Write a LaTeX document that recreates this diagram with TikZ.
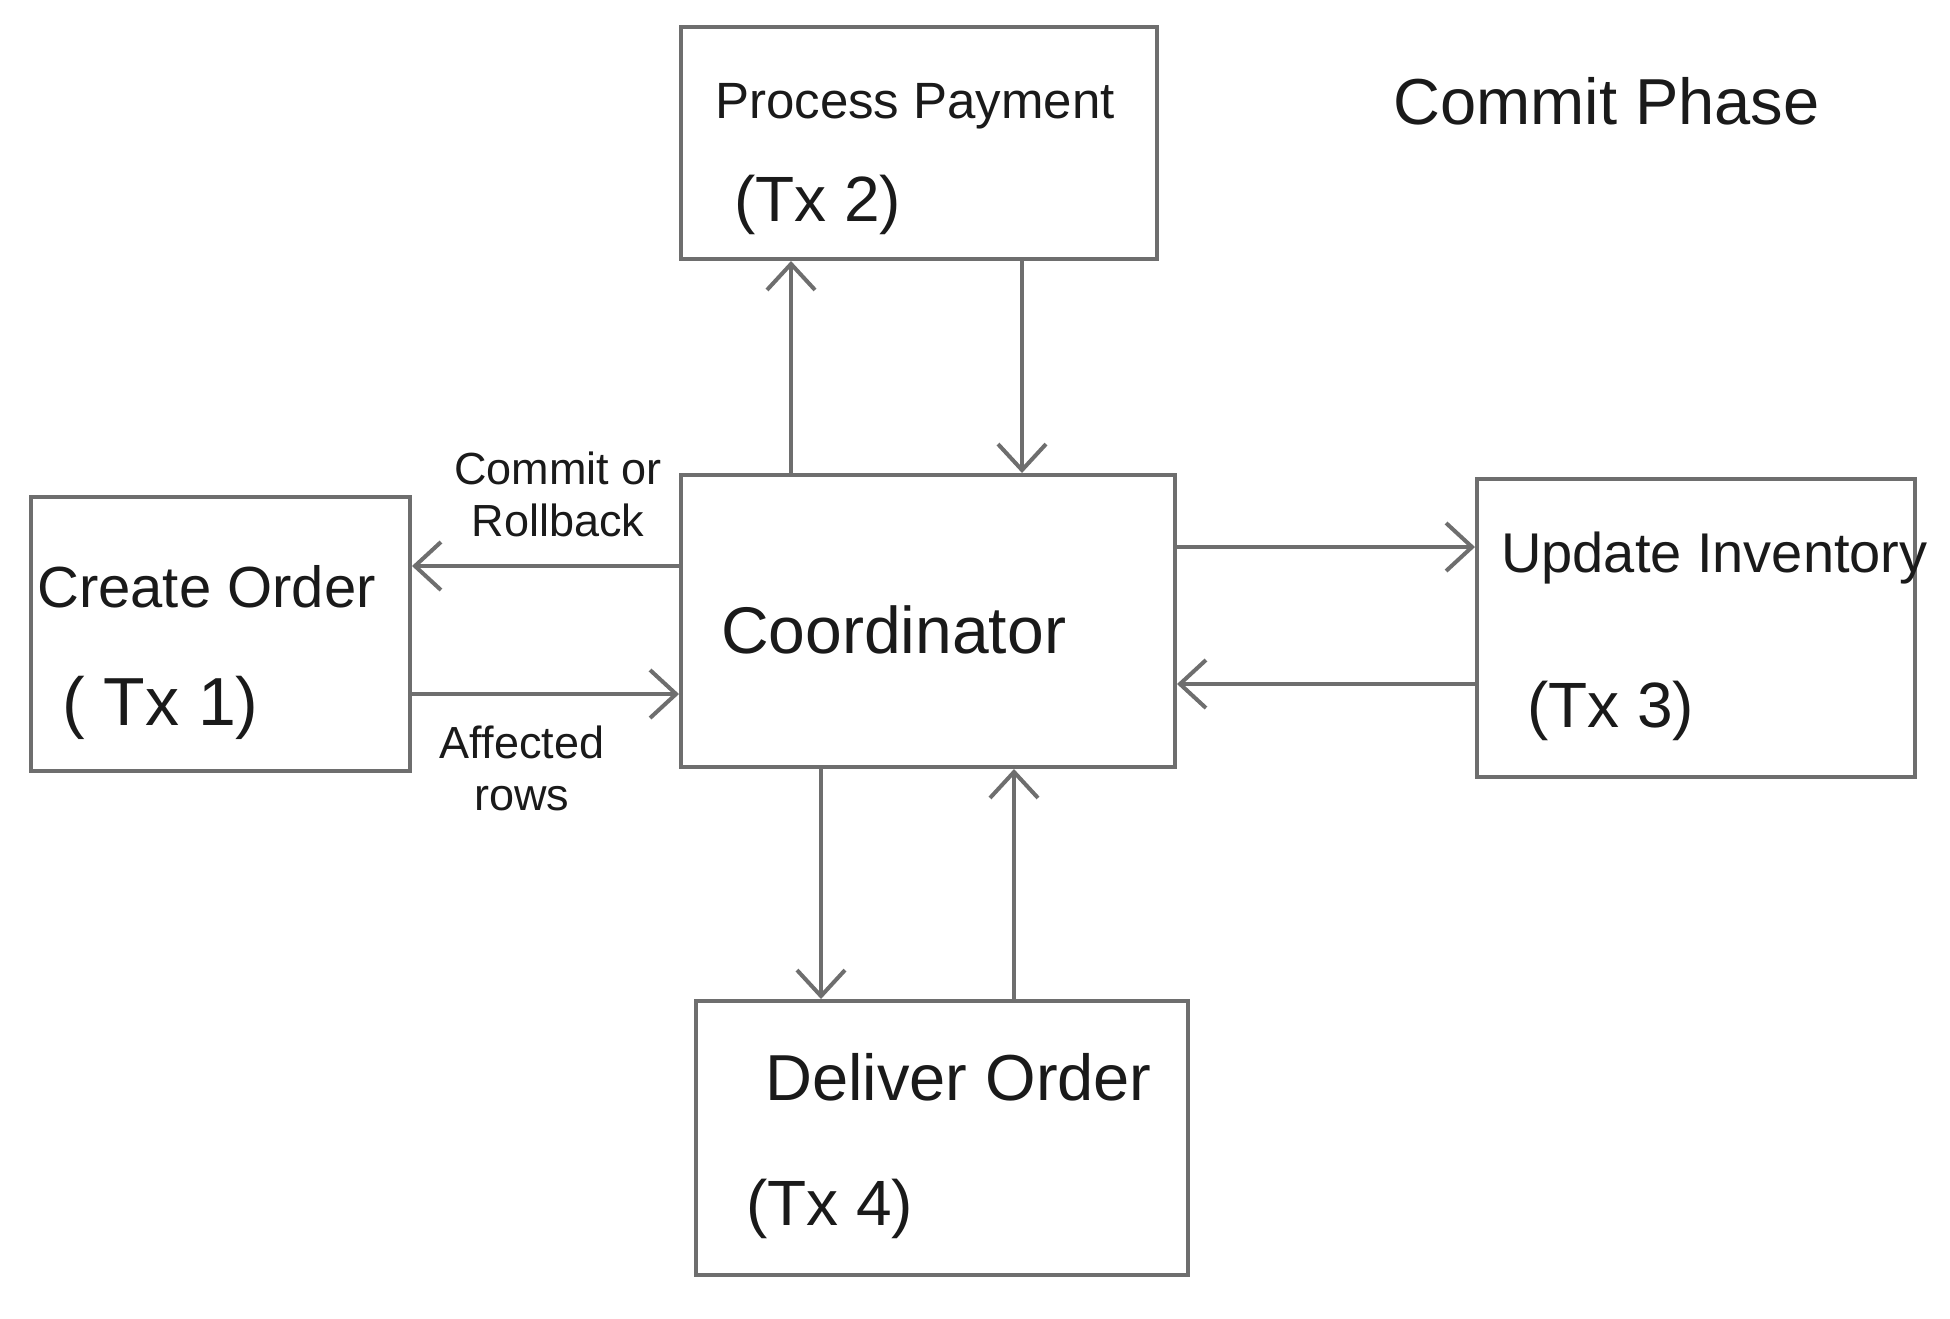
\documentclass[tikz,border=0pt]{standalone}
\usepackage{fontspec}
\setmainfont{Liberation Sans}
\usetikzlibrary{arrows.meta}
\definecolor{linegray}{HTML}{6E6E6E}
\definecolor{ink}{HTML}{1A1A1A}
\begin{document}
\begin{tikzpicture}[x=1pt,y=-1pt,
  box/.style={draw=linegray, line width=4pt, rectangle, inner sep=0pt},
  arr/.style={draw=linegray, line width=4pt, -{Straight Barb[length=26pt,width=48pt]}},
  txt/.style={anchor=base west, inner sep=0pt, text=ink, font=\fontsize{56}{60}\selectfont},
  big/.style={txt, font=\fontsize{64}{68}\selectfont},
  lbl/.style={inner sep=0pt, text=ink, align=center, font=\fontsize{45}{52}\selectfont}
]
\fill[white] (0,0) rectangle (1950,1318);
\useasboundingbox (0,0) rectangle (1950,1318);

% boxes
\node[box, minimum width=476pt, minimum height=232pt] (pp) at (919,143) {};
\node[box, minimum width=379pt, minimum height=274pt] (co) at (220.5,634) {};
\node[box, minimum width=494pt, minimum height=292pt] (coord) at (928,621) {};
\node[box, minimum width=438pt, minimum height=298pt] (ui) at (1696,628) {};
\node[box, minimum width=492pt, minimum height=274pt] (dl) at (942,1138) {};

% box texts
\node[txt, font=\fontsize{51}{55}\selectfont] (ppt1) at (715,118) {Process Payment};
\node[txt, font=\fontsize{64}{68}\selectfont] (ppt2) at (734,221) {(Tx 2)};
\node[txt, font=\fontsize{58}{62}\selectfont] (cot1) at (37,607) {Create Order};
\node[txt, font=\fontsize{68}{72}\selectfont] (cot2) at (62,725) {( Tx 1)};
\node[big, font=\fontsize{66}{70}\selectfont] (coordt) at (721,653) {Coordinator};
\node[txt] (uit1) at (1501,572) {Update Inventory};
\node[txt, font=\fontsize{64}{68}\selectfont] (uit2) at (1527,727) {(Tx 3)};
\node[txt, font=\fontsize{65}{69}\selectfont] (dlt1) at (765,1100) {Deliver Order};
\node[txt, font=\fontsize{64}{68}\selectfont] (dlt2) at (746,1225) {(Tx 4)};
\node[big, font=\fontsize{65}{69}\selectfont] (title) at (1393,124) {Commit Phase};

% connector labels
\node[lbl] (lcr) at (558,494) {Commit or\\Rollback};
\node[lbl] (lar) at (522,768) {Affected\\rows};

% connectors
\draw[arr] (791,0 |- coord.north) -- (791,0 |- pp.south);
\draw[arr] (1022,0 |- pp.south) -- (1022,0 |- coord.north);
\draw[arr] (0,566 -| coord.west) -- (0,566 -| co.east);
\draw[arr] (0,694 -| co.east) -- (0,694 -| coord.west);
\draw[arr] (0,547 -| coord.east) -- (0,547 -| ui.west);
\draw[arr] (0,684 -| ui.west) -- (0,684 -| coord.east);
\draw[arr] (821,0 |- coord.south) -- (821,0 |- dl.north);
\draw[arr] (1014,0 |- dl.north) -- (1014,0 |- coord.south);
\end{tikzpicture}
\end{document}
